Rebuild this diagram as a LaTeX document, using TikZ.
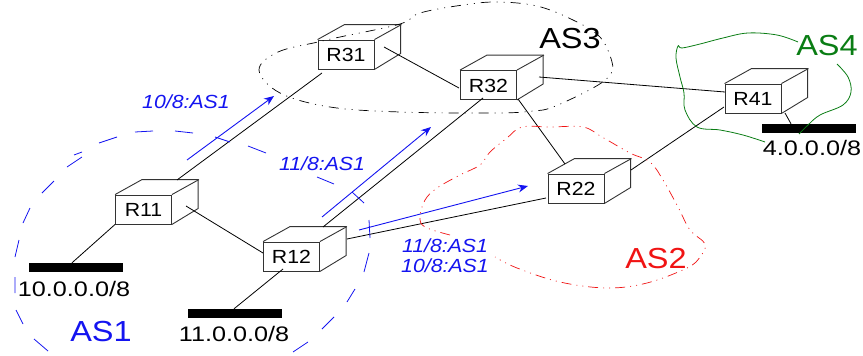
\documentclass[tikz,border=0pt]{standalone}
\usepackage{fontspec}
\usetikzlibrary{calc,arrows.meta}
\newfontfamily\arialw[FakeStretch=1.12]{Liberation Sans}
\newfontfamily\arialn[FakeStretch=1.2]{Liberation Sans}
\definecolor{asblue}{RGB}{20,20,240}
\definecolor{asred}{RGB}{240,20,20}
\definecolor{asgreen}{RGB}{10,125,20}
\tikzset{
  x=1pt,y=-1pt,
  routerbox/.style={draw=black!80,line width=0.9pt,minimum width=56pt,minimum height=29pt,inner sep=0pt,text height=14pt,text depth=0pt,font=\arialw\fontsize{19}{19}\selectfont},
  routerline/.style={draw=black!80,line width=0.9pt,line join=miter},
  link/.style={draw=black,line width=0.8pt},
  netbar/.style={fill=black,minimum width=94pt,minimum height=9pt,inner sep=0pt},
  netlabel/.style={inner sep=0pt,text height=15pt,text depth=0pt,font=\arialn\fontsize{21}{21}\selectfont},
  aslabel/.style={inner sep=0pt,text height=20pt,text depth=0pt,font=\arialw\fontsize{29}{29}\selectfont},
  routelabel/.style={inner sep=0pt,text height=14pt,text depth=0pt,text=asblue,font=\arialw\itshape\fontsize{19}{19}\selectfont},
  advert/.style={draw=asblue,line width=0.9pt,-{Stealth[length=10pt,width=8pt]}},
  asone/.style={draw=asblue,line width=0.8pt},
  asthree/.style={draw=black,line width=0.7pt,dash pattern=on 10pt off 6pt on 1pt off 6pt on 1pt off 6pt},
  astwo/.style={draw=asred,line width=0.7pt,dash pattern=on 10pt off 5pt on 1pt off 5pt on 1pt off 5pt},
  asfour/.style={draw=asgreen,line width=0.8pt},
}
\newcommand\router[2]{%
  \node[routerbox] (#1) at (#2) {#1\hspace{7pt}};
  \draw[routerline] (#1.north west) -- ++(27,-15) -- ++(56,0) -- ++(0,29) -- (#1.south east);
  \draw[routerline] (#1.north east) -- ++(27,-15);
}
\begin{document}
\begin{tikzpicture}
\useasboundingbox (0,0) rectangle (863,356);
% routers
\router{R11}{143.5,209.5}
\router{R12}{291.5,256.5}
\router{R31}{346,54.5}
\router{R32}{488.5,85}
\router{R22}{576,188.5}
\router{R41}{753,98.5}
% networks
\node[netbar] (net10) at (76,267.5) {};
\node[netbar] (net11) at (235,313.5) {};
\node[netbar] (net4) at (809,128.5) {};
\node[netlabel] (lab10) at (74,289) {10.0.0.0/8};
\node[netlabel] (lab11) at (234,334) {11.0.0.0/8};
\node[netlabel] (lab4) at (812,148) {4.0.0.0/8};
% links
\draw[link] ($(R11)+(33.5,-29.5)$) -- ($(R31)+(-24,18.5)$);
\draw[link] ($(R11)+(42.5,-3.5)$) -- ($(R12)+(-28.5,-3.5)$);
\draw[link] (R11.south west) -- ($(net10.north)+(-4,0)$);
\draw[link] ($(R12)+(-8.5,12.5)$) -- ($(net11.north)+(-1,0)$);
\draw[link] ($(R12)+(31.5,-29.5)$) -- ($(R32)+(-5.5,13)$);
\draw[link] ($(R12)+(55.5,-17.5)$) -- ($(R22)+(-30,9.5)$);
\draw[link] ($(R31)+(38,-7.5)$) -- ($(R32)+(-29.5,3)$);
\draw[link] ($(R32)+(50.5,-8)$) -- ($(R41)+(-28,-6.5)$);
\draw[link] ($(R32)+(29.5,14)$) -- ($(R22)+(-11,-24.5)$);
\draw[link] ($(R22)+(55,-18.5)$) -- ($(R41)+(-29,8.5)$);
\draw[link] ($(R41)+(32,14.5)$) -- ($(net4.north)+(-18,0)$);
% advertisements
\coordinate (a1s) at (187,160); \coordinate (a1e) at (274,96);
\coordinate (a2s) at (322,217); \coordinate (a2e) at (431,127);
\coordinate (a3s) at (359,230); \coordinate (a3e) at (528,186);
\draw[advert] (a1s) -- (a1e);
\draw[advert] (a2s) -- (a2e);
\draw[advert] (a3s) -- (a3e);
\node[routelabel] (l1) at (186,101) {10/8:AS1};
\node[routelabel] (l2) at (322,163) {11/8:AS1};
\node[routelabel] (l3) at (445,245) {11/8:AS1};
\node[routelabel] (l4) at (445,265) {10/8:AS1};
% AS outlines
\draw[asone] (48,351) -- (34,339) (23,324) -- (16,310) (15,293) -- (15,277) (15,257) -- (19,240) (23,223) -- (30,208) (42,193) -- (54,181) (67,167) -- (82,157) (74,155) -- (82,152) (99,143) -- (117,137) (135,132) -- (153,131) (175,131) -- (193,133) (215,137) -- (230,142) (248,146) -- (266,153) (317,177) -- (334,184) (352,192) -- (364,203) (369,220) -- (370,238) (369,253) -- (364,272) (355,289) -- (347,302) (334,317) -- (322,329) (308,342) -- (293,352);
\draw[asthree] plot[smooth cycle,tension=.6] coordinates {(259,70) (278,52) (318,42) (340,37) (400,24) (420,13) (463,5) (497,2) (537,6) (573,20) (600,37) (612,62) (610,75) (593,88) (553,107) (533,111) (497,113) (400,112) (330,107) (280,93)};
\draw[astwo] plot[smooth,tension=.6] coordinates {(450,235) (425,227) (420,217) (425,200) (437,188) (460,175) (480,165) (490,152) (507,138) (522,127) (550,127) (583,127) (602,137) (630,153) (650,162) (663,180) (678,207) (690,230) (705,244) (700,257) (687,268) (647,283) (607,288) (560,282) (517,268) (495,257)};
\draw[asfour] plot[smooth,tension=.6] coordinates {(798,42) (777,35) (748,33) (723,38) (700,44) (682,48) (678,46) (676,58) (680,77) (684,93) (685,110) (697,127) (720,130) (743,135) (765,142)};
\draw[asfour] plot[smooth,tension=.6] coordinates {(837,64) (848,77) (851,92) (843,105) (820,115) (808,125) (799,134)};
% AS names
\node[aslabel,text=asblue] (as1) at (101,331) {AS1};
\node[aslabel,text=asred] (as2) at (656,258) {AS2};
\node[aslabel,text=black] (as3) at (570,38) {AS3};
\node[aslabel,text=asgreen] (as4) at (827,46) {AS4};
\end{tikzpicture}
\end{document}
